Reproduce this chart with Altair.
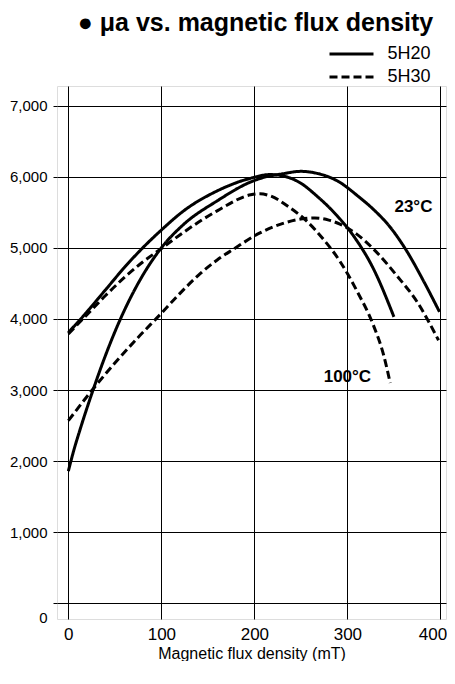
import altair as alt
import pandas as pd

# ---- data ----
grades = ["5H20", "5H30"]
x_ticks = [0, 100, 200, 300, 400]
y_ticks = [0, 1000, 2000, 3000, 4000, 5000, 6000, 7000]

# 5H20, 23 C (solid)
x_5h20_23 = [0, 6, 12, 26, 40, 56, 75, 100, 124, 160, 195, 210, 230, 250, 268, 290, 312, 328, 346, 364, 382, 399]
y_5h20_23 = [1860, 2160, 2420, 2980, 3490, 4000, 4500, 5000, 5330, 5660, 5920, 5990, 6040, 6075, 6045, 5935, 5720, 5540, 5290, 4950, 4530, 4100]
# 5H20, 100 C (solid)
x_5h20_100 = [0, 14, 40, 60, 80, 100, 124, 160, 195, 217, 231, 249, 267, 289, 307, 328, 350]
y_5h20_100 = [3810, 4010, 4410, 4720, 5000, 5250, 5520, 5800, 5975, 6030, 6010, 5916, 5730, 5450, 5160, 4705, 4030]
# 5H30, 23 C (dashed)
x_5h30_23 = [0, 25, 50, 75, 100, 120, 142, 160, 178, 206, 230, 250, 265, 280, 292, 310, 328, 353, 375, 398]
y_5h30_23 = [2570, 2990, 3380, 3740, 4080, 4360, 4640, 4830, 4985, 5210, 5340, 5405, 5420, 5390, 5333, 5193, 4984, 4611, 4239, 3700]
# 5H30, 100 C (dashed)
x_5h30_100 = [0, 20, 40, 60, 80, 100, 124, 160, 196, 206, 217, 238, 256, 274, 292, 310, 328, 339, 346]
y_5h30_100 = [3790, 4060, 4330, 4580, 4800, 4990, 5220, 5520, 5745, 5760, 5730, 5566, 5379, 5124, 4810, 4400, 3910, 3490, 3100]

# curve labels
ann_x = [371, 300]
ann_y = [5500, 3112]
ann_text = ["23°C", "100°C"]

rows = []
for grade, temp, xs, ys in [
    ("5H20", "23", x_5h20_23, y_5h20_23),
    ("5H20", "100", x_5h20_100, y_5h20_100),
    ("5H30", "23", x_5h30_23, y_5h30_23),
    ("5H30", "100", x_5h30_100, y_5h30_100),
]:
    for x, y in zip(xs, ys):
        rows.append({"grade": grade, "series": grade + "_" + temp, "B": x, "mu": y})
df = pd.DataFrame(rows)
ann = pd.DataFrame({"B": ann_x, "mu": ann_y, "label": ann_text})

FONT = "Liberation Sans, Arial, Helvetica, sans-serif"

xscale = alt.Scale(domain=[-12.2, 406], nice=False, zero=False)
yscale = alt.Scale(domain=[-218, 7275], nice=False, zero=False)

x_enc = alt.X(
    "B:Q",
    scale=xscale,
    axis=alt.Axis(
        values=x_ticks,
        title="Magnetic flux density (mT)",
        titleFont=FONT,
        titleFontSize=16,
        titleFontWeight="normal",
        titleColor="black",
        titlePadding=3,
        labelFont=FONT,
        labelFontSize=17,
        labelColor="black",
        labelPadding=7,
        labelOffset={"condition": {"test": "datum.value === 400", "value": -8}, "value": 0},
        ticks=False,
        domain=False,
        grid=True,
        gridColor="black",
        gridWidth=1,
        gridOpacity=1,
    ),
)
y_enc = alt.Y(
    "mu:Q",
    scale=yscale,
    axis=alt.Axis(
        values=y_ticks,
        labelExpr="format(datum.value, ',')",
        title=None,
        labelFont=FONT,
        labelFontSize=15,
        labelColor="black",
        labelPadding=6,
        labelOffset={"condition": {"test": "datum.value === 0", "value": 14}, "value": 0},
        tickSize=4,
        tickColor="black",
        domain=False,
        grid=True,
        gridColor="black",
        gridWidth=1,
        gridOpacity=1,
    ),
)

lines = alt.Chart(df).mark_line(
    strokeWidth=3, color="black", interpolate="monotone"
).encode(
    x=x_enc,
    y=y_enc,
    strokeDash=alt.StrokeDash(
        "grade:N",
        scale=alt.Scale(domain=grades, range=[[1, 0], [8, 4]]),
        legend=alt.Legend(
            title=None,
            orient="none",
            legendX=271,
            legendY=-41,
            symbolType="stroke",
            symbolSize=1936,
            symbolStrokeWidth=3,
            symbolStrokeColor="black",
            clipHeight=18,
            labelFont=FONT,
            labelFontSize=18,
            labelColor="black",
            labelOffset=12.5,
            rowPadding=5,
            padding=0,
        ),
    ),
    detail="series:N",
)

labels = alt.Chart(ann).mark_text(
    font=FONT, fontSize=17, fontWeight="bold", color="black", align="center", baseline="alphabetic"
).encode(x=x_enc, y=y_enc, text="label:N")

chart = alt.layer(lines, labels).properties(
    width=389,
    height=533,
    padding={"left": 1, "right": 0, "top": 3, "bottom": 0},
    title=alt.Title(
        "● μa vs. magnetic flux density",
        font=FONT,
        fontSize=25,
        fontWeight="bold",
        color="black",
        anchor="middle",
        dx=4,
        offset=9,
    ),
).configure_view(stroke="black", strokeWidth=1.5).configure(background="white")

chart.save("out.html", embed_options={"renderer": "svg", "actions": False})
